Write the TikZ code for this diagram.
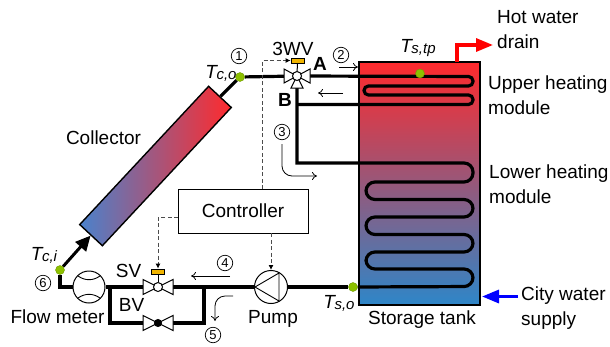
\documentclass[tikz,border=0pt]{standalone}
\usepackage{fontspec}
\setmainfont{Liberation Sans}
\usepackage{tikz}
\usetikzlibrary{arrows.meta,backgrounds}

\definecolor{hotred}{HTML}{FF2A2D}
\definecolor{coldblue}{HTML}{2E86C8}
\definecolor{panelblue}{HTML}{4A82CC}
\definecolor{sensorgreen}{HTML}{8DC000}
\definecolor{actuator}{HTML}{F0B400}

\newcommand{\tlabel}[1]{\textit{T\kern-0.5pt\raisebox{-1pt}{\fontsize{15}{15}\selectfont #1}}}

\tikzset{
  twoway/.pic={\draw[fill=white,line width=1pt] (-15,-7.5) -- (15,7.5) -- (15,-7.5) -- (-15,7.5) -- cycle;},
  threeway/.pic={
    \draw[fill=white,line width=1pt] (-13,-7) -- (13,7) -- (13,-7) -- (-13,7) -- cycle;
    \draw[fill=white,line width=1pt] (0,0) -- (-6,12) -- (6,12) -- cycle;}
}

\begin{document}
\begin{tikzpicture}[x=1pt,y=-1pt,every path/.style={>=latex},
    lbl/.style={font=\fontsize{19}{25}\selectfont,inner sep=0pt,align=left},
    num/.style={draw,circle,line width=0.7pt,inner sep=0pt,minimum size=15.5pt,font=\fontsize{13}{13}\selectfont},
    sensor/.style={circle,draw=sensorgreen!80!black,line width=0.4pt,fill=sensorgreen,inner sep=0pt,minimum size=9pt},
    hub/.style={circle,draw,line width=1pt,fill=white,inner sep=0pt,minimum size=9pt},
    act/.style={draw,line width=0.8pt,fill=actuator,inner sep=0pt,minimum width=13pt,minimum height=5pt},
    pipe/.style={line width=3.2pt},
    thinarrow/.style={line width=0.8pt,-{To[length=5pt,width=8pt]}},
    signal/.style={dash pattern=on 4pt off 2.5pt,draw=black!70,line width=0.9pt,-{Latex[black,length=5pt,width=5pt]}}]
  \useasboundingbox (0,0) rectangle (610,346);

  % valves, meter, pump
  \pic at (297,76) {threeway};
  \node[hub]  (wv) at (297,76)  {};
  \node[act]  (wvact) at (297.5,60.5) {};
  \pic at (158,287) {twoway};
  \node[hub]  (sv) at (158,287) {};
  \node[act]  (svact) at (158,271.5) {};
  \pic at (158,323) {twoway};
  \node[hub,fill=black,minimum size=7pt] (bv) at (158,323) {};
  \node[draw,circle,line width=1pt,fill=white,inner sep=0pt,minimum size=32pt] (meter) at (89,287) {};
  \draw[line width=0.9pt] (78,276) to[bend right=35] (100,276);
  \draw[line width=0.9pt] (78,298) to[bend left=35] (100,298);
  \node[draw,circle,line width=1pt,fill=white,inner sep=0pt,minimum size=33pt] (pump) at (271,287) {};
  \draw[line width=0.9pt] (279,273) -- (255,287) -- (279,301) -- cycle;

  % sensors
  \node[sensor] (tco) at (240,77)  {};
  \node[sensor] (tci) at (60,270)  {};
  \node[sensor] (tso) at (353,287) {};
  \node[sensor] (tstp) at (420,73.5) {};

  % collector and controller
  \node[draw,line width=1.4pt,rotate=47,left color=panelblue,right color=hotred,
        minimum width=189pt,minimum height=31pt,inner sep=0pt] (collector) at (155.5,166) {};
  \node[draw,line width=0.9pt,minimum width=130pt,minimum height=44pt,inner sep=0pt,lbl,align=center] (ctrl) at (243,211) {Controller};

  \begin{pgfonlayer}{background}
    \node[draw,line width=2pt,top color=hotred,bottom color=coldblue,
          minimum width=121pt,minimum height=243pt,inner sep=0pt] (tank) at (419,183.5) {};
    % coils
    \draw[pipe,rounded corners=4.5pt] (wv) -- (473,76.5) -- (473,86) -- (364,86) -- (364,95) -- (473,95) -- (473,104.5) -- (297,104.5);
    \draw[pipe] (wv) -- (297,163) [rounded corners=9pt] -- (473,163) -- (473,182) -- (366,182) -- (366,199.5) -- (473,199.5)
      -- (473,217) -- (366,217) -- (366,234.5) -- (473,234.5) -- (473,252) -- (366,252) -- (366,269) -- (473,269) -- (473,286.5) -- (tso);
    % pipes
    \draw[pipe] (tco) -- (wv);
    \draw[pipe] (tco) -- (collector.east);
    \draw[pipe] (tci) |- (meter);
    \coordinate (j1) at (110,287);
    \coordinate (j2) at (204,287);
    \draw[pipe] (meter) -- (pump);
    \draw[pipe] (pump) -- (tso);
    \draw[pipe] (j1) |- (bv);
    \draw[pipe] (j2) |- (bv);
    \draw[line width=1pt] (wv) -- (wvact);
    \draw[line width=1pt] (sv) -- (svact);
  \end{pgfonlayer}
  \draw[line width=3pt,-{Triangle[length=15pt,width=14pt]}] (tci) -- (collector.west);

  % hot and cold water
  \coordinate (drainend) at (493,45);
  \coordinate (drainstart) at (457,62);
  \coordinate (cityend) at (518,296.5);
  \coordinate (cityin) at (482,296.5);
  \draw[red,line width=3.2pt,-{Triangle[length=17pt,width=13pt]}] (drainstart) |- (drainend);
  \draw[blue,line width=3.2pt,-{Triangle[length=17pt,width=13pt]}] (cityend) -- (cityin);

  % control signals
  \coordinate (sigsv) at (178,217);
  \coordinate (sigwv) at (262,189);
  \draw[signal] (sigsv) -| (svact);
  \draw[signal] (ctrl.south -| pump) -- (pump);
  \draw[signal] (sigwv) |- (wvact);

  % flow arrows
  \coordinate (f2a) at (339,67);  \coordinate (f2b) at (358,67);
  \coordinate (f2c) at (343,93);  \coordinate (f2d) at (318,93);
  \coordinate (f3a) at (282,144); \coordinate (f3b) at (317,176);
  \coordinate (f4a) at (230,276); \coordinate (f4b) at (191,276);
  \coordinate (f5a) at (233,296); \coordinate (f5b) at (215,321);
  \draw[thinarrow] (f2a) -- (f2b);
  \draw[thinarrow] (f2c) -- (f2d);
  \draw[thinarrow,rounded corners=10pt] (f3a) |- (f3b);
  \draw[thinarrow] (f4a) -- (f4b);
  \draw[thinarrow,rounded corners=10pt] (f5a) -| (f5b);

  % numbers
  \node[num] (n1) at (239,56)  {1};
  \node[num] (n2) at (341,55)  {2};
  \node[num] (n3) at (282,132) {3};
  \node[num] (n4) at (225,263) {4};
  \node[num] (n5) at (213,335) {5};
  \node[num] (n6) at (43,283)  {6};

  % labels
  \node[lbl] (lcoll) at (103.5,138) {Collector};
  \node[lbl] (lwv) at (293,49) {3WV};
  \node[lbl,font=\fontsize{19}{19}\selectfont\bfseries] (la) at (320,64) {A};
  \node[lbl,font=\fontsize{19}{19}\selectfont\bfseries] (lb) at (285,100) {B};
  \node[lbl,anchor=west] (lhot) at (497,30) {Hot water\\drain};
  \node[lbl,anchor=west] (lup) at (488,95) {Upper heating\\module};
  \node[lbl,anchor=west] (llow) at (489,184) {Lower heating\\module};
  \node[lbl,anchor=west] (lcity) at (521,308.5) {City water\\supply};
  \node[lbl] (ltank) at (422,320) {Storage tank};
  \node[lbl] (lpump) at (273,319) {Pump};
  \node[lbl] (lmeter) at (57.5,317) {Flow meter};
  \node[lbl] (lsv) at (128.5,271) {SV};
  \node[lbl] (lbv) at (131.5,305) {BV};
  \node[lbl] (ltco) at (221,73) {\tlabel{c,o}};
  \node[lbl] (ltci) at (44,255) {\tlabel{c,i}};
  \node[lbl] (ltso) at (339,303) {\tlabel{s,o}};
  \node[lbl] (ltstp) at (418,48) {\tlabel{s,tp}};
\end{tikzpicture}
\end{document}
